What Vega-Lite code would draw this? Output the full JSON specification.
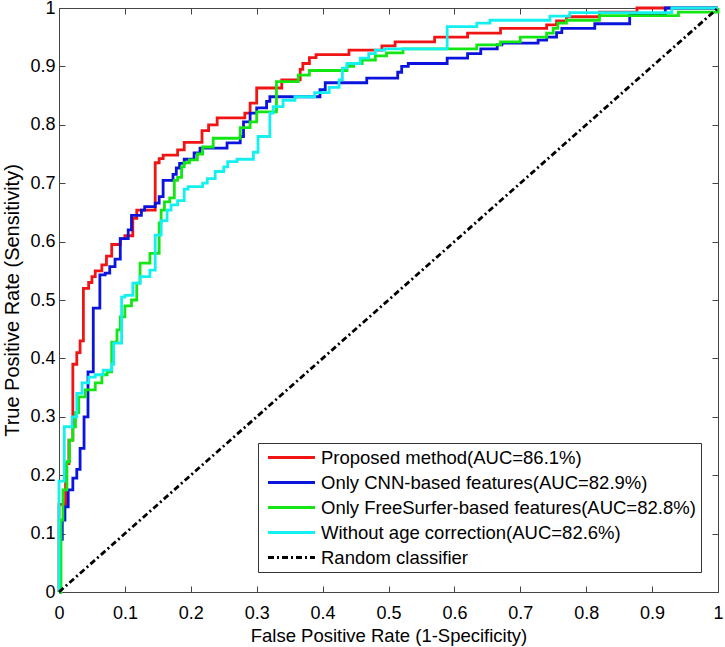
{
  "$schema": "https://vega.github.io/schema/vega-lite/v6.json",
  "width": 659,
  "height": 584,
  "autosize": {"type": "none"},
  "padding": {"left": 59, "top": 8, "right": 7, "bottom": 55},
  "background": "white",
  "config": {
    "view": {"stroke": null},
    "font": "Liberation Sans",
    "axis": {
      "grid": false,
      "domainColor": "#444",
      "tickColor": "#444",
      "tickSize": -6,
      "domainWidth": 1,
      "tickWidth": 1,
      "labelFont": "Liberation Sans",
      "labelFontSize": 18,
      "labelColor": "black",
      "titleFont": "Liberation Sans",
      "titleFontSize": 18.5,
      "titleFontWeight": "normal",
      "titleColor": "black"
    }
  },
  "datasets": {
    "roc": [
      {"s": "Proposed method(AUC=86.1%)", "x": 0, "y": 0},
      {"s": "Proposed method(AUC=86.1%)", "x": 0, "y": 0.15},
      {"s": "Proposed method(AUC=86.1%)", "x": 0.01, "y": 0.22},
      {"s": "Proposed method(AUC=86.1%)", "x": 0.015, "y": 0.26},
      {"s": "Proposed method(AUC=86.1%)", "x": 0.021, "y": 0.39},
      {"s": "Proposed method(AUC=86.1%)", "x": 0.027, "y": 0.41},
      {"s": "Proposed method(AUC=86.1%)", "x": 0.032, "y": 0.43},
      {"s": "Proposed method(AUC=86.1%)", "x": 0.037, "y": 0.52},
      {"s": "Proposed method(AUC=86.1%)", "x": 0.045, "y": 0.53},
      {"s": "Proposed method(AUC=86.1%)", "x": 0.05, "y": 0.54},
      {"s": "Proposed method(AUC=86.1%)", "x": 0.055, "y": 0.55},
      {"s": "Proposed method(AUC=86.1%)", "x": 0.065, "y": 0.56},
      {"s": "Proposed method(AUC=86.1%)", "x": 0.072, "y": 0.575},
      {"s": "Proposed method(AUC=86.1%)", "x": 0.08, "y": 0.595},
      {"s": "Proposed method(AUC=86.1%)", "x": 0.093, "y": 0.605},
      {"s": "Proposed method(AUC=86.1%)", "x": 0.1, "y": 0.61},
      {"s": "Proposed method(AUC=86.1%)", "x": 0.112, "y": 0.64},
      {"s": "Proposed method(AUC=86.1%)", "x": 0.118, "y": 0.654},
      {"s": "Proposed method(AUC=86.1%)", "x": 0.146, "y": 0.735},
      {"s": "Proposed method(AUC=86.1%)", "x": 0.152, "y": 0.742},
      {"s": "Proposed method(AUC=86.1%)", "x": 0.158, "y": 0.748},
      {"s": "Proposed method(AUC=86.1%)", "x": 0.18, "y": 0.757},
      {"s": "Proposed method(AUC=86.1%)", "x": 0.19, "y": 0.77},
      {"s": "Proposed method(AUC=86.1%)", "x": 0.217, "y": 0.79},
      {"s": "Proposed method(AUC=86.1%)", "x": 0.227, "y": 0.8},
      {"s": "Proposed method(AUC=86.1%)", "x": 0.24, "y": 0.812},
      {"s": "Proposed method(AUC=86.1%)", "x": 0.282, "y": 0.82},
      {"s": "Proposed method(AUC=86.1%)", "x": 0.29, "y": 0.837},
      {"s": "Proposed method(AUC=86.1%)", "x": 0.3, "y": 0.863},
      {"s": "Proposed method(AUC=86.1%)", "x": 0.338, "y": 0.877},
      {"s": "Proposed method(AUC=86.1%)", "x": 0.366, "y": 0.895},
      {"s": "Proposed method(AUC=86.1%)", "x": 0.37, "y": 0.905},
      {"s": "Proposed method(AUC=86.1%)", "x": 0.38, "y": 0.915},
      {"s": "Proposed method(AUC=86.1%)", "x": 0.39, "y": 0.92},
      {"s": "Proposed method(AUC=86.1%)", "x": 0.44, "y": 0.928},
      {"s": "Proposed method(AUC=86.1%)", "x": 0.49, "y": 0.935},
      {"s": "Proposed method(AUC=86.1%)", "x": 0.51, "y": 0.942},
      {"s": "Proposed method(AUC=86.1%)", "x": 0.57, "y": 0.95},
      {"s": "Proposed method(AUC=86.1%)", "x": 0.62, "y": 0.957},
      {"s": "Proposed method(AUC=86.1%)", "x": 0.67, "y": 0.965},
      {"s": "Proposed method(AUC=86.1%)", "x": 0.74, "y": 0.971},
      {"s": "Proposed method(AUC=86.1%)", "x": 0.755, "y": 0.978},
      {"s": "Proposed method(AUC=86.1%)", "x": 0.77, "y": 0.985},
      {"s": "Proposed method(AUC=86.1%)", "x": 0.82, "y": 0.993},
      {"s": "Proposed method(AUC=86.1%)", "x": 0.877, "y": 1},
      {"s": "Proposed method(AUC=86.1%)", "x": 1, "y": 1},

      {"s": "Only CNN-based features(AUC=82.9%)", "x": 0, "y": 0},
      {"s": "Only CNN-based features(AUC=82.9%)", "x": 0.002, "y": 0.09},
      {"s": "Only CNN-based features(AUC=82.9%)", "x": 0.005, "y": 0.123},
      {"s": "Only CNN-based features(AUC=82.9%)", "x": 0.009, "y": 0.146},
      {"s": "Only CNN-based features(AUC=82.9%)", "x": 0.014, "y": 0.175},
      {"s": "Only CNN-based features(AUC=82.9%)", "x": 0.021, "y": 0.195},
      {"s": "Only CNN-based features(AUC=82.9%)", "x": 0.027, "y": 0.21},
      {"s": "Only CNN-based features(AUC=82.9%)", "x": 0.032, "y": 0.246},
      {"s": "Only CNN-based features(AUC=82.9%)", "x": 0.038, "y": 0.3},
      {"s": "Only CNN-based features(AUC=82.9%)", "x": 0.044, "y": 0.377},
      {"s": "Only CNN-based features(AUC=82.9%)", "x": 0.052, "y": 0.486},
      {"s": "Only CNN-based features(AUC=82.9%)", "x": 0.062, "y": 0.543},
      {"s": "Only CNN-based features(AUC=82.9%)", "x": 0.07, "y": 0.546},
      {"s": "Only CNN-based features(AUC=82.9%)", "x": 0.077, "y": 0.557},
      {"s": "Only CNN-based features(AUC=82.9%)", "x": 0.085, "y": 0.57},
      {"s": "Only CNN-based features(AUC=82.9%)", "x": 0.093, "y": 0.605},
      {"s": "Only CNN-based features(AUC=82.9%)", "x": 0.105, "y": 0.62},
      {"s": "Only CNN-based features(AUC=82.9%)", "x": 0.11, "y": 0.645},
      {"s": "Only CNN-based features(AUC=82.9%)", "x": 0.125, "y": 0.654},
      {"s": "Only CNN-based features(AUC=82.9%)", "x": 0.13, "y": 0.66},
      {"s": "Only CNN-based features(AUC=82.9%)", "x": 0.146, "y": 0.666},
      {"s": "Only CNN-based features(AUC=82.9%)", "x": 0.152, "y": 0.677},
      {"s": "Only CNN-based features(AUC=82.9%)", "x": 0.158, "y": 0.705},
      {"s": "Only CNN-based features(AUC=82.9%)", "x": 0.173, "y": 0.715},
      {"s": "Only CNN-based features(AUC=82.9%)", "x": 0.178, "y": 0.726},
      {"s": "Only CNN-based features(AUC=82.9%)", "x": 0.183, "y": 0.734},
      {"s": "Only CNN-based features(AUC=82.9%)", "x": 0.19, "y": 0.741},
      {"s": "Only CNN-based features(AUC=82.9%)", "x": 0.205, "y": 0.752},
      {"s": "Only CNN-based features(AUC=82.9%)", "x": 0.214, "y": 0.76},
      {"s": "Only CNN-based features(AUC=82.9%)", "x": 0.255, "y": 0.769},
      {"s": "Only CNN-based features(AUC=82.9%)", "x": 0.275, "y": 0.78},
      {"s": "Only CNN-based features(AUC=82.9%)", "x": 0.28, "y": 0.805},
      {"s": "Only CNN-based features(AUC=82.9%)", "x": 0.29, "y": 0.82},
      {"s": "Only CNN-based features(AUC=82.9%)", "x": 0.3, "y": 0.829},
      {"s": "Only CNN-based features(AUC=82.9%)", "x": 0.315, "y": 0.84},
      {"s": "Only CNN-based features(AUC=82.9%)", "x": 0.32, "y": 0.848},
      {"s": "Only CNN-based features(AUC=82.9%)", "x": 0.396, "y": 0.86},
      {"s": "Only CNN-based features(AUC=82.9%)", "x": 0.404, "y": 0.872},
      {"s": "Only CNN-based features(AUC=82.9%)", "x": 0.467, "y": 0.88},
      {"s": "Only CNN-based features(AUC=82.9%)", "x": 0.514, "y": 0.89},
      {"s": "Only CNN-based features(AUC=82.9%)", "x": 0.52, "y": 0.9},
      {"s": "Only CNN-based features(AUC=82.9%)", "x": 0.53, "y": 0.905},
      {"s": "Only CNN-based features(AUC=82.9%)", "x": 0.589, "y": 0.914},
      {"s": "Only CNN-based features(AUC=82.9%)", "x": 0.62, "y": 0.922},
      {"s": "Only CNN-based features(AUC=82.9%)", "x": 0.64, "y": 0.93},
      {"s": "Only CNN-based features(AUC=82.9%)", "x": 0.665, "y": 0.937},
      {"s": "Only CNN-based features(AUC=82.9%)", "x": 0.672, "y": 0.94},
      {"s": "Only CNN-based features(AUC=82.9%)", "x": 0.727, "y": 0.945},
      {"s": "Only CNN-based features(AUC=82.9%)", "x": 0.74, "y": 0.95},
      {"s": "Only CNN-based features(AUC=82.9%)", "x": 0.755, "y": 0.958},
      {"s": "Only CNN-based features(AUC=82.9%)", "x": 0.763, "y": 0.965},
      {"s": "Only CNN-based features(AUC=82.9%)", "x": 0.813, "y": 0.973},
      {"s": "Only CNN-based features(AUC=82.9%)", "x": 0.866, "y": 0.99},
      {"s": "Only CNN-based features(AUC=82.9%)", "x": 0.92, "y": 1},
      {"s": "Only CNN-based features(AUC=82.9%)", "x": 1, "y": 1},

      {"s": "Only FreeSurfer-based features(AUC=82.8%)", "x": 0, "y": 0},
      {"s": "Only FreeSurfer-based features(AUC=82.8%)", "x": 0.003, "y": 0.123},
      {"s": "Only FreeSurfer-based features(AUC=82.8%)", "x": 0.006, "y": 0.175},
      {"s": "Only FreeSurfer-based features(AUC=82.8%)", "x": 0.012, "y": 0.223},
      {"s": "Only FreeSurfer-based features(AUC=82.8%)", "x": 0.016, "y": 0.26},
      {"s": "Only FreeSurfer-based features(AUC=82.8%)", "x": 0.021, "y": 0.283},
      {"s": "Only FreeSurfer-based features(AUC=82.8%)", "x": 0.025, "y": 0.307},
      {"s": "Only FreeSurfer-based features(AUC=82.8%)", "x": 0.03, "y": 0.334},
      {"s": "Only FreeSurfer-based features(AUC=82.8%)", "x": 0.04, "y": 0.346},
      {"s": "Only FreeSurfer-based features(AUC=82.8%)", "x": 0.055, "y": 0.358},
      {"s": "Only FreeSurfer-based features(AUC=82.8%)", "x": 0.065, "y": 0.372},
      {"s": "Only FreeSurfer-based features(AUC=82.8%)", "x": 0.073, "y": 0.377},
      {"s": "Only FreeSurfer-based features(AUC=82.8%)", "x": 0.08, "y": 0.428},
      {"s": "Only FreeSurfer-based features(AUC=82.8%)", "x": 0.088, "y": 0.449},
      {"s": "Only FreeSurfer-based features(AUC=82.8%)", "x": 0.093, "y": 0.471},
      {"s": "Only FreeSurfer-based features(AUC=82.8%)", "x": 0.1, "y": 0.49},
      {"s": "Only FreeSurfer-based features(AUC=82.8%)", "x": 0.11, "y": 0.5},
      {"s": "Only FreeSurfer-based features(AUC=82.8%)", "x": 0.118, "y": 0.529},
      {"s": "Only FreeSurfer-based features(AUC=82.8%)", "x": 0.123, "y": 0.563},
      {"s": "Only FreeSurfer-based features(AUC=82.8%)", "x": 0.138, "y": 0.58},
      {"s": "Only FreeSurfer-based features(AUC=82.8%)", "x": 0.152, "y": 0.632},
      {"s": "Only FreeSurfer-based features(AUC=82.8%)", "x": 0.155, "y": 0.654},
      {"s": "Only FreeSurfer-based features(AUC=82.8%)", "x": 0.16, "y": 0.668},
      {"s": "Only FreeSurfer-based features(AUC=82.8%)", "x": 0.168, "y": 0.675},
      {"s": "Only FreeSurfer-based features(AUC=82.8%)", "x": 0.175, "y": 0.705},
      {"s": "Only FreeSurfer-based features(AUC=82.8%)", "x": 0.18, "y": 0.71},
      {"s": "Only FreeSurfer-based features(AUC=82.8%)", "x": 0.186, "y": 0.728},
      {"s": "Only FreeSurfer-based features(AUC=82.8%)", "x": 0.19, "y": 0.735},
      {"s": "Only FreeSurfer-based features(AUC=82.8%)", "x": 0.198, "y": 0.74},
      {"s": "Only FreeSurfer-based features(AUC=82.8%)", "x": 0.21, "y": 0.75},
      {"s": "Only FreeSurfer-based features(AUC=82.8%)", "x": 0.218, "y": 0.762},
      {"s": "Only FreeSurfer-based features(AUC=82.8%)", "x": 0.234, "y": 0.777},
      {"s": "Only FreeSurfer-based features(AUC=82.8%)", "x": 0.275, "y": 0.795},
      {"s": "Only FreeSurfer-based features(AUC=82.8%)", "x": 0.29, "y": 0.805},
      {"s": "Only FreeSurfer-based features(AUC=82.8%)", "x": 0.3, "y": 0.822},
      {"s": "Only FreeSurfer-based features(AUC=82.8%)", "x": 0.33, "y": 0.874},
      {"s": "Only FreeSurfer-based features(AUC=82.8%)", "x": 0.363, "y": 0.885},
      {"s": "Only FreeSurfer-based features(AUC=82.8%)", "x": 0.38, "y": 0.893},
      {"s": "Only FreeSurfer-based features(AUC=82.8%)", "x": 0.437, "y": 0.9},
      {"s": "Only FreeSurfer-based features(AUC=82.8%)", "x": 0.447, "y": 0.905},
      {"s": "Only FreeSurfer-based features(AUC=82.8%)", "x": 0.46, "y": 0.911},
      {"s": "Only FreeSurfer-based features(AUC=82.8%)", "x": 0.48, "y": 0.918},
      {"s": "Only FreeSurfer-based features(AUC=82.8%)", "x": 0.497, "y": 0.923},
      {"s": "Only FreeSurfer-based features(AUC=82.8%)", "x": 0.522, "y": 0.93},
      {"s": "Only FreeSurfer-based features(AUC=82.8%)", "x": 0.634, "y": 0.937},
      {"s": "Only FreeSurfer-based features(AUC=82.8%)", "x": 0.67, "y": 0.942},
      {"s": "Only FreeSurfer-based features(AUC=82.8%)", "x": 0.7, "y": 0.95},
      {"s": "Only FreeSurfer-based features(AUC=82.8%)", "x": 0.74, "y": 0.957},
      {"s": "Only FreeSurfer-based features(AUC=82.8%)", "x": 0.75, "y": 0.965},
      {"s": "Only FreeSurfer-based features(AUC=82.8%)", "x": 0.757, "y": 0.974},
      {"s": "Only FreeSurfer-based features(AUC=82.8%)", "x": 0.77, "y": 0.979},
      {"s": "Only FreeSurfer-based features(AUC=82.8%)", "x": 0.82, "y": 0.987},
      {"s": "Only FreeSurfer-based features(AUC=82.8%)", "x": 0.94, "y": 0.993},
      {"s": "Only FreeSurfer-based features(AUC=82.8%)", "x": 1, "y": 1},

      {"s": "Without age correction(AUC=82.6%)", "x": 0, "y": 0},
      {"s": "Without age correction(AUC=82.6%)", "x": 0, "y": 0.19},
      {"s": "Without age correction(AUC=82.6%)", "x": 0.008, "y": 0.283},
      {"s": "Without age correction(AUC=82.6%)", "x": 0.02, "y": 0.3},
      {"s": "Without age correction(AUC=82.6%)", "x": 0.027, "y": 0.34},
      {"s": "Without age correction(AUC=82.6%)", "x": 0.035, "y": 0.358},
      {"s": "Without age correction(AUC=82.6%)", "x": 0.045, "y": 0.368},
      {"s": "Without age correction(AUC=82.6%)", "x": 0.055, "y": 0.372},
      {"s": "Without age correction(AUC=82.6%)", "x": 0.067, "y": 0.38},
      {"s": "Without age correction(AUC=82.6%)", "x": 0.08, "y": 0.39},
      {"s": "Without age correction(AUC=82.6%)", "x": 0.083, "y": 0.426},
      {"s": "Without age correction(AUC=82.6%)", "x": 0.095, "y": 0.505},
      {"s": "Without age correction(AUC=82.6%)", "x": 0.1, "y": 0.508},
      {"s": "Without age correction(AUC=82.6%)", "x": 0.112, "y": 0.529},
      {"s": "Without age correction(AUC=82.6%)", "x": 0.123, "y": 0.54},
      {"s": "Without age correction(AUC=82.6%)", "x": 0.138, "y": 0.551},
      {"s": "Without age correction(AUC=82.6%)", "x": 0.146, "y": 0.611},
      {"s": "Without age correction(AUC=82.6%)", "x": 0.155, "y": 0.636},
      {"s": "Without age correction(AUC=82.6%)", "x": 0.164, "y": 0.654},
      {"s": "Without age correction(AUC=82.6%)", "x": 0.17, "y": 0.663},
      {"s": "Without age correction(AUC=82.6%)", "x": 0.18, "y": 0.67},
      {"s": "Without age correction(AUC=82.6%)", "x": 0.19, "y": 0.69},
      {"s": "Without age correction(AUC=82.6%)", "x": 0.196, "y": 0.694},
      {"s": "Without age correction(AUC=82.6%)", "x": 0.218, "y": 0.7},
      {"s": "Without age correction(AUC=82.6%)", "x": 0.225, "y": 0.708},
      {"s": "Without age correction(AUC=82.6%)", "x": 0.237, "y": 0.72},
      {"s": "Without age correction(AUC=82.6%)", "x": 0.25, "y": 0.728},
      {"s": "Without age correction(AUC=82.6%)", "x": 0.256, "y": 0.737},
      {"s": "Without age correction(AUC=82.6%)", "x": 0.27, "y": 0.741},
      {"s": "Without age correction(AUC=82.6%)", "x": 0.295, "y": 0.753},
      {"s": "Without age correction(AUC=82.6%)", "x": 0.302, "y": 0.78},
      {"s": "Without age correction(AUC=82.6%)", "x": 0.32, "y": 0.82},
      {"s": "Without age correction(AUC=82.6%)", "x": 0.325, "y": 0.831},
      {"s": "Without age correction(AUC=82.6%)", "x": 0.34, "y": 0.842},
      {"s": "Without age correction(AUC=82.6%)", "x": 0.358, "y": 0.848},
      {"s": "Without age correction(AUC=82.6%)", "x": 0.388, "y": 0.855},
      {"s": "Without age correction(AUC=82.6%)", "x": 0.41, "y": 0.864},
      {"s": "Without age correction(AUC=82.6%)", "x": 0.425, "y": 0.877},
      {"s": "Without age correction(AUC=82.6%)", "x": 0.43, "y": 0.897},
      {"s": "Without age correction(AUC=82.6%)", "x": 0.437, "y": 0.905},
      {"s": "Without age correction(AUC=82.6%)", "x": 0.457, "y": 0.914},
      {"s": "Without age correction(AUC=82.6%)", "x": 0.47, "y": 0.922},
      {"s": "Without age correction(AUC=82.6%)", "x": 0.48, "y": 0.928},
      {"s": "Without age correction(AUC=82.6%)", "x": 0.494, "y": 0.93},
      {"s": "Without age correction(AUC=82.6%)", "x": 0.589, "y": 0.968},
      {"s": "Without age correction(AUC=82.6%)", "x": 0.634, "y": 0.974},
      {"s": "Without age correction(AUC=82.6%)", "x": 0.654, "y": 0.979},
      {"s": "Without age correction(AUC=82.6%)", "x": 0.745, "y": 0.986},
      {"s": "Without age correction(AUC=82.6%)", "x": 0.775, "y": 0.992},
      {"s": "Without age correction(AUC=82.6%)", "x": 0.93, "y": 1},
      {"s": "Without age correction(AUC=82.6%)", "x": 1, "y": 1}
    ],
    "rnd": [
      {"s": "Random classifier", "x": 0, "y": 0},
      {"s": "Random classifier", "x": 1, "y": 1}
    ]
  },
  "layer": [
    {
      "data": {"name": "roc"},
      "mark": {"type": "line", "interpolate": "step-after", "strokeWidth": 2.8},
      "encoding": {
        "x": {
          "field": "x", "type": "quantitative",
          "scale": {"domain": [0, 1], "nice": false, "zero": false},
          "axis": {"orient": "bottom", "values": [0, 0.1, 0.2, 0.3, 0.4, 0.5, 0.6, 0.7, 0.8, 0.9, 1], "format": "~g", "title": "False Positive Rate (1-Specificity)", "labelPadding": 18, "titlePadding": 4, "labelFlush": false}
        },
        "y": {
          "field": "y", "type": "quantitative",
          "scale": {"domain": [0, 1], "nice": false, "zero": false},
          "axis": {"orient": "left", "values": [0, 0.1, 0.2, 0.3, 0.4, 0.5, 0.6, 0.7, 0.8, 0.9, 1], "format": "~g", "title": "True Positive Rate (Sensitivity)", "titleFontSize": 20, "labelPadding": 10, "titlePadding": 7, "labelFlush": false}
        },
        "color": {
          "field": "s", "type": "nominal",
          "scale": {
            "domain": ["Proposed method(AUC=86.1%)", "Only CNN-based features(AUC=82.9%)", "Only FreeSurfer-based features(AUC=82.8%)", "Without age correction(AUC=82.6%)", "Random classifier"],
            "range": ["#f01414", "#0a14dc", "#14e614", "#14f0f0", "#000000"]
          },
          "legend": {
            "title": null, "orient": "none", "legendX": 199, "legendY": 435,
            "symbolType": "M-0.575,0H5.43", "symbolSize": 245, "symbolStrokeWidth": 2.8, "symbolOffset": 0,
            "labelFont": "Liberation Sans", "labelFontSize": 18.5, "labelColor": "black", "labelLimit": 600,
            "labelOffset": 39, "strokeColor": "#333", "fillColor": "white", "padding": 5, "rowPadding": 6
          }
        },
        "strokeDash": {
          "field": "s", "type": "nominal",
          "scale": {
            "domain": ["Proposed method(AUC=86.1%)", "Only CNN-based features(AUC=82.9%)", "Only FreeSurfer-based features(AUC=82.8%)", "Without age correction(AUC=82.6%)", "Random classifier"],
            "range": [[1, 0], [1, 0], [1, 0], [1, 0], [6, 3, 2, 3]]
          },
          "legend": {
            "title": null, "orient": "none", "legendX": 199, "legendY": 435,
            "symbolType": "M-0.575,0H5.43", "symbolSize": 245, "symbolStrokeWidth": 2.8, "symbolOffset": 0,
            "labelFont": "Liberation Sans", "labelFontSize": 18.5, "labelColor": "black", "labelLimit": 600,
            "labelOffset": 39, "strokeColor": "#333", "fillColor": "white", "padding": 5, "rowPadding": 6
          }
        },
        "order": {"value": null}
      }
    },
    {
      "data": {"name": "rnd"},
      "mark": {"type": "line", "strokeWidth": 2.8},
      "encoding": {
        "x": {
          "field": "x", "type": "quantitative",
          "scale": {"domain": [0, 1], "nice": false, "zero": false},
          "axis": {"orient": "top", "values": [0, 0.1, 0.2, 0.3, 0.4, 0.5, 0.6, 0.7, 0.8, 0.9, 1], "labels": false, "title": null}
        },
        "y": {
          "field": "y", "type": "quantitative",
          "scale": {"domain": [0, 1], "nice": false, "zero": false},
          "axis": {"orient": "right", "values": [0, 0.1, 0.2, 0.3, 0.4, 0.5, 0.6, 0.7, 0.8, 0.9, 1], "labels": false, "title": null}
        },
        "color": {"field": "s", "type": "nominal"},
        "strokeDash": {"field": "s", "type": "nominal"}
      }
    }
  ],
  "resolve": {"axis": {"x": "independent", "y": "independent"}}
}
